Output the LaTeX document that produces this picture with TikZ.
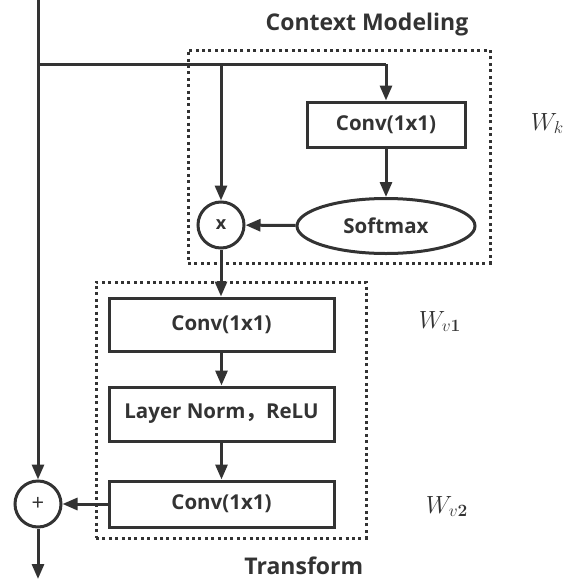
\documentclass[tikz,border=0pt]{standalone}
\usepackage[no-math]{fontspec}
\setmainfont{Open Sans}
\newfontfamily\cjk{Noto Sans CJK SC}
\usetikzlibrary{arrows.meta,shapes.geometric}

\definecolor{ink}{HTML}{333333}

\begin{document}
\begin{tikzpicture}[x=1pt,y=-1pt,color=ink,line width=3pt,
  arr/.style={-{Triangle[length=15pt,width=12pt]}},
  blockbox/.style={draw,rectangle,minimum width=225pt,inner sep=0pt,
    font=\bfseries\fontsize{20.5}{24}\selectfont},
  opcircle/.style={draw,circle,minimum size=46pt,inner sep=0pt},
  groupframe/.style={draw,rectangle,inner sep=0pt,line width=3pt,
    dash pattern=on 3pt off 3.4pt},
  title/.style={font=\bfseries\fontsize{23}{26}\selectfont},
  weight/.style={anchor=base west,font=\fontsize{27}{30}\selectfont}]

\useasboundingbox (0,0) rectangle (576,579);

% dotted group frames
\node[groupframe,minimum width=302pt,minimum height=213pt] (ctx) at (339,156.5) {};
\node[groupframe,minimum width=270pt,minimum height=256pt] (trf) at (231,410) {};
\node[title] (ctxlabel) at (367,25) {Context Modeling};
\node[title,anchor=east] (trflabel) at (368,566) {Transform};

% context modeling branch
\node[blockbox,minimum width=158pt,minimum height=45pt] (convk) at (386,124.5) {Conv(1x1)};
\node[draw,ellipse,minimum width=178pt,minimum height=55pt,inner sep=0pt,
  font=\bfseries\fontsize{20.5}{24}\selectfont] (softmax) at (386,226) {Softmax};
\node[opcircle,font=\bfseries\fontsize{18}{20}\selectfont] (mul) at (221,225) {x};

% transform branch
\node[blockbox,minimum height=53pt] (convv1) at (221.5,324.5) {Conv(1x1)};
\node[blockbox,minimum height=54pt] (lnrelu) at (221.5,414) {Layer Norm{\cjk\bfseries ，}ReLU};
\node[blockbox,minimum height=46pt] (convv2) at (221.5,504) {Conv(1x1)};
\node[opcircle,font=\fontsize{22}{24}\selectfont] (add) at (38,504) {+};

% weight labels
\node[weight] (wk) at (526,130) {$W_k$};
\node[weight] (wv1) at (414,328) {$W_{v\mathbf{1}}$};
\node[weight] (wv2) at (421,513) {$W_{v\mathbf{2}}$};

% input trunk and its branches
\coordinate (in) at (38,0);
\coordinate (split) at (38,64);
\coordinate (splitmul) at (221,64);
\coordinate (splitk) at (386,64);
\coordinate (out) at (38,579);

\draw[arr] (in) -- (add);
\draw (split) -- (splitk);
\draw[arr] (splitk) -- (convk);
\draw[arr] (splitmul) -- (mul);
\draw[arr] (convk) -- (softmax);
\draw[arr] (softmax) -- (mul);
\draw[arr] (mul) -- (mul |- convv1.north);
\draw[arr] (convv1) -- (lnrelu);
\draw[arr] (lnrelu) -- (convv2);
\draw[arr] (convv2) -- (add);
\draw[arr] (add) -- (out);
\end{tikzpicture}
\end{document}
